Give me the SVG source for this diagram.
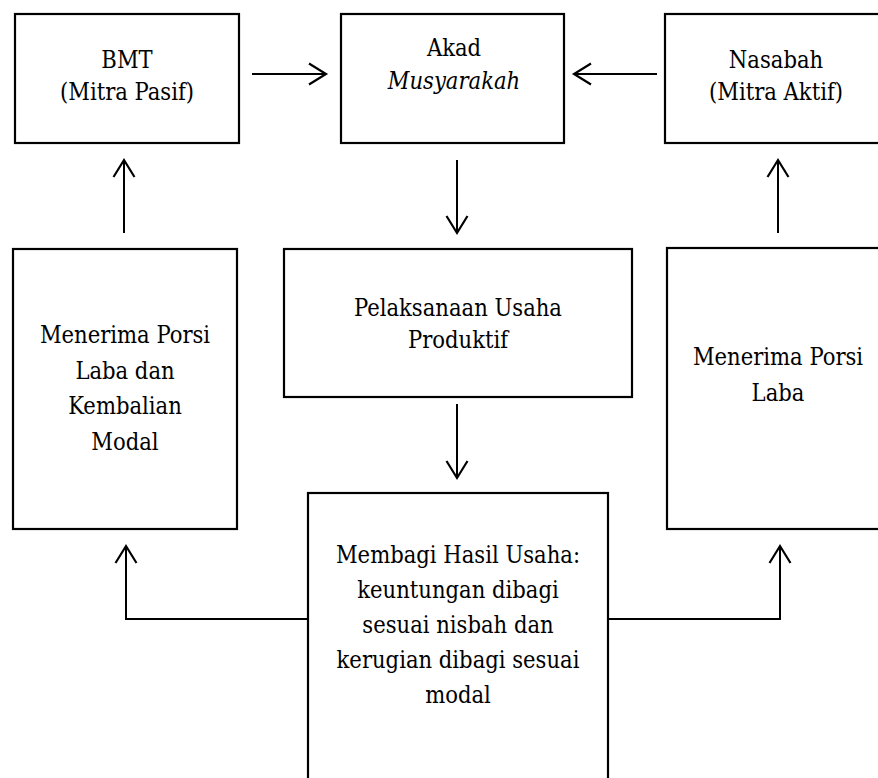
<svg xmlns="http://www.w3.org/2000/svg" width="878" height="778" viewBox="0 0 878 778">
<style>
.box{fill:#fff;stroke:#000;stroke-width:2.2}
text{font-family:'DejaVu Serif Condensed', 'DejaVu Serif', serif;font-stretch:condensed;font-size:23.5px;fill:#000;text-anchor:middle}
.i{font-style:italic}
.c{fill:none;stroke:#000;stroke-width:2}
</style>
<defs>
<marker id="arr" markerUnits="userSpaceOnUse" viewBox="-22 -14 26 28" markerWidth="26" markerHeight="28" refX="0" refY="0" orient="auto" overflow="visible">
<path d="M-17,-10.5 L0,0 L-17,10.5" fill="none" stroke="#000" stroke-width="2.2"/>
</marker>
</defs>
<rect width="878" height="778" fill="#fff"/>
<g id="bmt">
<rect class="box" x="15" y="14" width="224" height="129"/>
<text x="127" y="68">BMT</text>
<text x="127" y="100">(Mitra Pasif)</text>
</g>
<g id="akad">
<rect class="box" x="341" y="14" width="223" height="129"/>
<text x="454" y="56">Akad</text>
<text class="i" x="454" y="89">Musyarakah</text>
</g>
<g id="nasabah">
<rect class="box" x="665" y="14" width="222" height="129"/>
<text x="776" y="68">Nasabah</text>
<text x="776" y="100">(Mitra Aktif)</text>
</g>
<g id="laba-modal">
<rect class="box" x="13" y="249" width="224" height="280"/>
<text x="125" y="343">Menerima Porsi</text>
<text x="125" y="378.5">Laba dan</text>
<text x="125" y="414">Kembalian</text>
<text x="125" y="449.5">Modal</text>
</g>
<g id="pelaksanaan">
<rect class="box" x="284" y="249" width="348" height="148"/>
<text x="458" y="316">Pelaksanaan Usaha</text>
<text x="458" y="348">Produktif</text>
</g>
<g id="laba">
<rect class="box" x="667" y="248" width="222" height="281"/>
<text x="778" y="365">Menerima Porsi</text>
<text x="778" y="401">Laba</text>
</g>
<g id="membagi">
<rect class="box" x="308" y="493" width="300" height="300"/>
<text x="458" y="563">Membagi Hasil Usaha:</text>
<text x="458" y="598">keuntungan dibagi</text>
<text x="458" y="633">sesuai nisbah dan</text>
<text x="458" y="668">kerugian dibagi sesuai</text>
<text x="458" y="703">modal</text>
</g>
<g id="connectors">
<line class="c" x1="252" y1="74" x2="326" y2="74" marker-end="url(#arr)"/>
<line class="c" x1="657" y1="74" x2="574" y2="74" marker-end="url(#arr)"/>
<line class="c" x1="457" y1="160" x2="457" y2="233" marker-end="url(#arr)"/>
<line class="c" x1="457" y1="404" x2="457" y2="478" marker-end="url(#arr)"/>
<line class="c" x1="124" y1="233" x2="124" y2="160" marker-end="url(#arr)"/>
<line class="c" x1="778" y1="233" x2="778" y2="160" marker-end="url(#arr)"/>
<polyline class="c" points="308,619 126,619 126,546" marker-end="url(#arr)"/>
<polyline class="c" points="608,619 780,619 780,546" marker-end="url(#arr)"/>
</g>
</svg>
